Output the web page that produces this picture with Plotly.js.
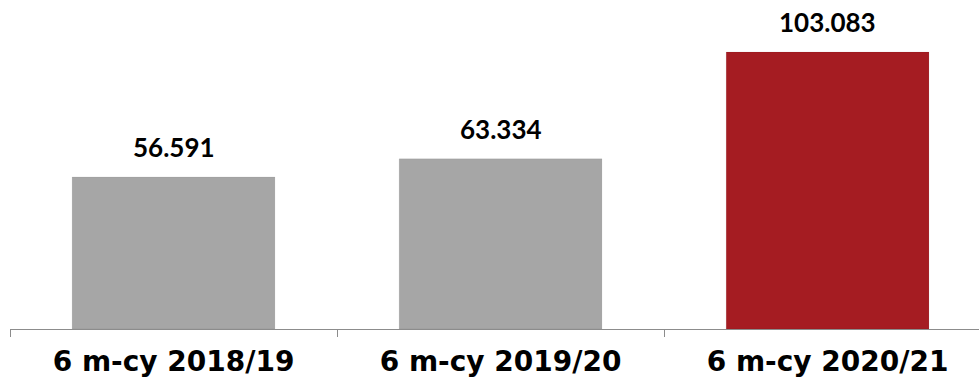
<!DOCTYPE html>
<html>
<head>
<meta charset="utf-8">
<script src="https://cdn.plot.ly/plotly-3.0.1.min.js"></script>
<style>
  html, body { margin: 0; padding: 0; background: #fff; }
  #chart { width: 979px; height: 378px; }
</style>
</head>
<body>
<div id="chart"></div>
<script>
// Half-year totals, first six months of each season
const categories = ['6 m-cy 2018/19', '6 m-cy 2019/20', '6 m-cy 2020/21'];
const values = [56591, 63334, 103083];
const barColors = ['#A6A6A6', '#A6A6A6', '#A51C22'];

const trace = {
  type: 'bar',
  x: categories,
  y: values,
  width: 0.62,
  marker: { color: barColors, line: { color: 'rgba(0,0,0,0.06)', width: 1 } },
  hoverinfo: 'skip'
};

// value labels above each bar, with a dot as thousands separator
const fmt = v => String(v).replace(/\B(?=(\d{3})+(?!\d))/g, '.');
const annotations = categories.map((c, i) => ({
  x: c,
  y: values[i],
  xref: 'x',
  yref: 'y',
  text: '<b>' + fmt(values[i]) + '</b>',
  showarrow: false,
  yanchor: 'middle',
  yshift: 30,
  font: { family: 'Lato, "Open Sans", sans-serif', size: 26, color: '#000', weight: 'bold' }
}));

const layout = {
  width: 979,
  height: 378,
  margin: { l: 10, r: 0, t: 0, b: 49, pad: 0 },
  paper_bgcolor: '#fff',
  plot_bgcolor: '#fff',
  separators: ',.',
  showlegend: false,
  xaxis: {
    type: 'category',
    range: [-0.5, 2.463],
    showline: true,
    linecolor: '#8C8C8C',
    linewidth: 1,
    ticks: 'outside',
    tickson: 'boundaries',
    ticklen: 7,
    tickcolor: '#8C8C8C',
    tickwidth: 1,
    ticklabelstandoff: 7,
    showgrid: false,
    zeroline: false,
    tickfont: { family: '"DejaVu Sans", Verdana, sans-serif', size: 28, color: '#000', weight: 'bold' }
  },
  yaxis: {
    range: [0, 122450],
    visible: false,
    showgrid: false,
    zeroline: false
  },
  annotations: annotations
};

Plotly.newPlot('chart', [trace], layout, { staticPlot: true, displayModeBar: false });
</script>
</body>
</html>
